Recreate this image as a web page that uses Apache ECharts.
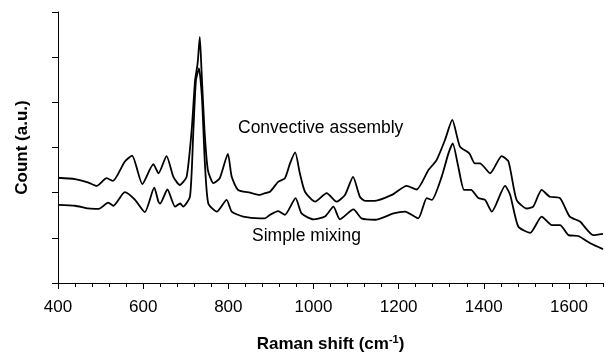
<!DOCTYPE html>
<html>
<head>
<meta charset="utf-8">
<script src="https://cdn.jsdelivr.net/npm/echarts@6/dist/echarts.min.js"></script>
<style>
html,body{margin:0;padding:0;background:#fff;}
#chart{width:605px;height:352px;}
</style>
</head>
<body>
<div id="chart"></div>
<script>
const convectiveShift = [400,440,470,491,514,529,557,574,598,624,636,655,671,686,702,714,722,728,733,737,744,752,765,780,799,808,823,851,874,886,898,917,933,945,957,968,980,1004,1031,1054,1074,1093,1109,1121,1144,1184,1219,1242,1270,1289,1309,1326,1344,1366,1379,1391,1415,1442,1458,1477,1501,1516,1536,1555,1579,1602,1626,1657,1680];
const convectiveCount = [2.33,2.30,2.23,2.15,2.32,2.26,2.69,2.82,2.19,2.63,2.43,2.81,2.35,2.17,2.35,3.39,4.49,4.87,5.45,4.72,3.39,2.50,2.21,2.32,2.86,2.35,2.06,2.00,1.95,1.99,2.02,2.24,2.32,2.65,2.89,2.43,2.02,1.80,1.99,1.80,1.95,2.35,1.91,1.82,1.82,1.95,2.15,2.07,2.50,2.72,3.17,3.61,3.02,2.87,2.65,2.65,2.43,2.81,2.69,1.84,1.65,1.69,2.06,1.91,1.88,1.47,1.36,1.06,1.09];

const simpleShift = [400,440,471,496,518,530,557,581,604,626,636,640,657,675,687,694,710,718,724,731,738,745,753,773,796,808,835,874,886,898,917,933,958,972,1000,1027,1047,1062,1094,1113,1145,1188,1215,1246,1266,1278,1301,1317,1327,1340,1354,1370,1387,1403,1419,1450,1462,1481,1509,1536,1560,1579,1599,1622,1650,1680];
const simpleCount = [1.73,1.71,1.65,1.64,1.78,1.71,2.01,1.84,1.57,2.11,1.80,1.76,2.07,1.69,1.76,1.69,1.91,3.39,4.49,4.75,4.12,2.65,1.76,1.58,1.84,1.58,1.47,1.43,1.43,1.51,1.59,1.51,1.88,1.54,1.41,1.47,1.69,1.41,1.63,1.43,1.40,1.54,1.58,1.43,1.88,1.84,2.35,2.87,3.09,2.58,2.06,2.06,1.88,1.84,1.58,2.15,1.95,1.25,1.11,1.47,1.28,1.28,1.06,1.04,0.88,0.75];

const xMin = 400, xMax = 1680, xMajor = 200, xMinor = 40;
const yMin = 0, yMax = 6, yStep = 1;
const seriesNames = ['Convective assembly', 'Simple mixing'];
const xTitle = 'Raman shift (cm{sup|-1})';
const yTitle = 'Count (a.u.)';

const FONT = '"Liberation Sans", Arial, sans-serif';
const zip = (xs, ys) => xs.map((x, i) => [x, ys[i]]);

const chart = echarts.init(document.getElementById('chart'), null, {renderer: 'canvas'});
const lineCommon = {
  type: 'line', showSymbol: false, smooth: 0.2, silent: true,
  lineStyle: {color: '#000', width: 1.8}, animation: false
};
chart.setOption({
  animation: false,
  grid: {left: 58, top: 12, width: 545, height: 271, containLabel: false, outerBoundsMode: 'none'},
  xAxis: [{
    type: 'value', min: xMin, max: xMax, interval: xMajor, position: 'bottom',
    axisLine: {lineStyle: {color: '#000', width: 1}},
    axisTick: {length: 6, lineStyle: {color: '#000'}},
    splitLine: {show: false},
    axisLabel: {showMaxLabel: false, color: '#000', fontSize: 17, fontFamily: FONT, margin: 16,
      formatter: v => String(v)},
    name: xTitle, nameLocation: 'middle', nameGap: 51,
    nameTextStyle: {color: '#000', fontSize: 17, fontWeight: 'bold', fontFamily: FONT,
      rich: {sup: {fontSize: 11, fontWeight: 'bold', fontFamily: FONT, color: '#000', verticalAlign: 'bottom', padding: [0, 0, 9, 0]}}}
  }, {
    type: 'value', min: xMin, max: xMax, interval: xMinor, position: 'bottom',
    axisLine: {show: false},
    axisTick: {length: 4, lineStyle: {color: '#000'}},
    axisLabel: {show: false}, splitLine: {show: false}
  }],
  yAxis: {
    type: 'value', min: yMin, max: yMax, interval: yStep,
    axisLine: {show: true, lineStyle: {color: '#000', width: 1}},
    axisTick: {show: true, length: 6, lineStyle: {color: '#000'}},
    axisLabel: {show: false}, splitLine: {show: false},
    name: yTitle, nameLocation: 'middle', nameGap: 27,
    nameTextStyle: {color: '#000', fontSize: 17, fontWeight: 'bold', fontFamily: FONT}
  },
  series: [
    Object.assign({name: seriesNames[0], data: zip(convectiveShift, convectiveCount)}, lineCommon),
    Object.assign({name: seriesNames[1], data: zip(simpleShift, simpleCount)}, lineCommon)
  ],
  graphic: [
    {type: 'text', x: 238, y: 128, style: {text: seriesNames[0], font: '17.5px ' + FONT, fill: '#000', verticalAlign: 'middle'}},
    {type: 'text', x: 252, y: 236, style: {text: seriesNames[1], font: '17.5px ' + FONT, fill: '#000', verticalAlign: 'middle'}}
  ]
});
</script>
</body>
</html>
